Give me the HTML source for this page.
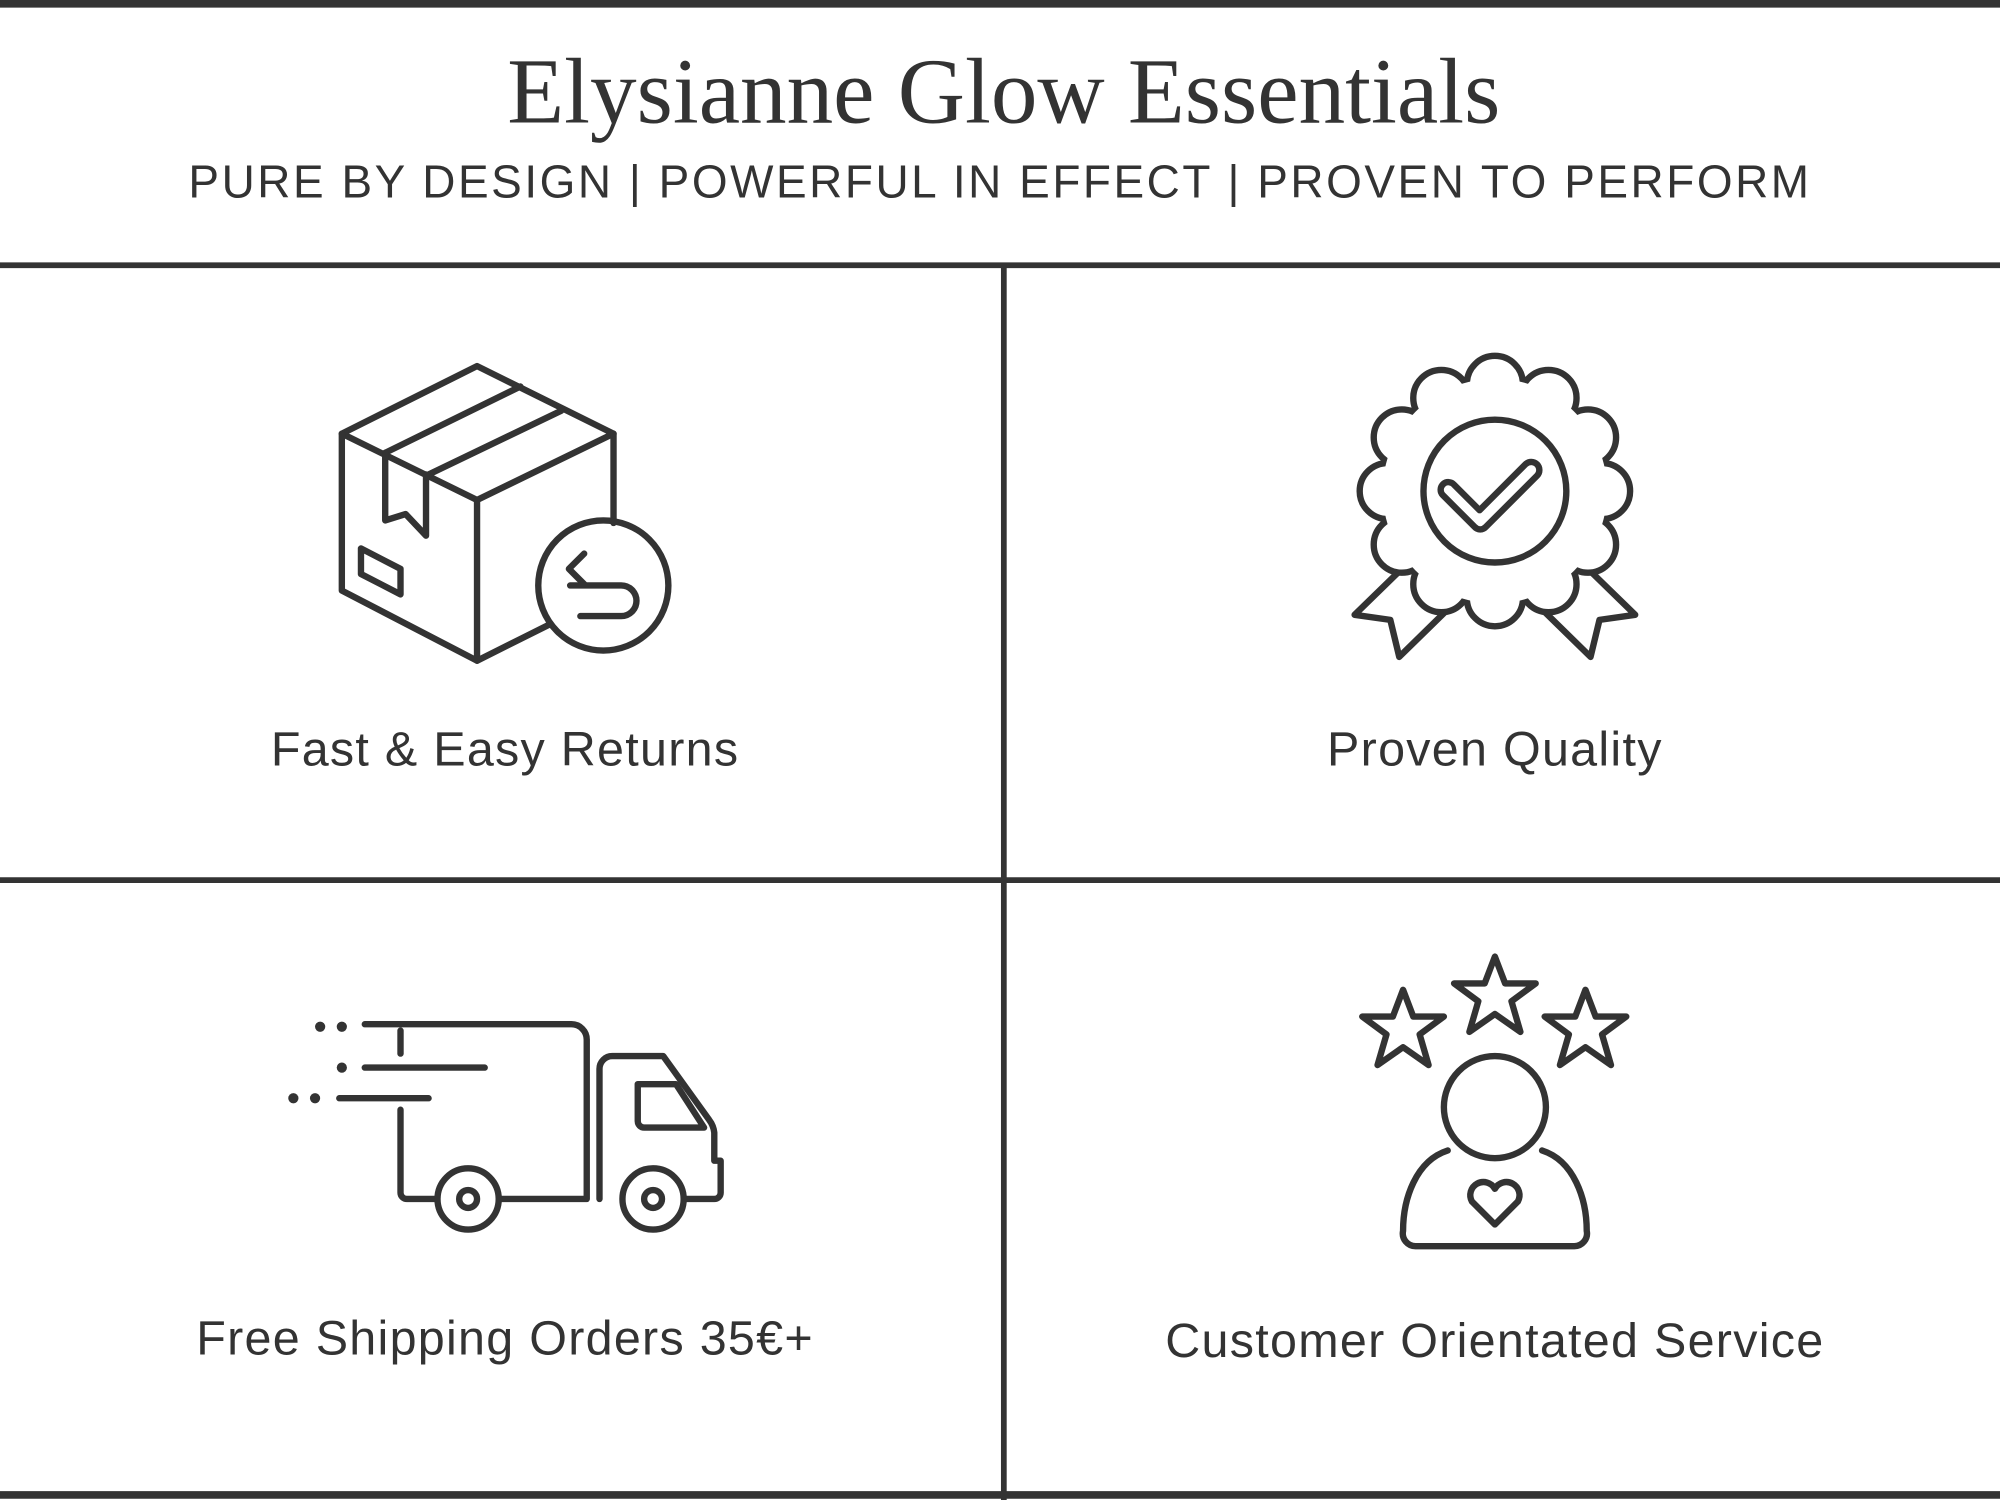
<!DOCTYPE html>
<html><head><meta charset="utf-8"><style>
html,body{margin:0;padding:0;background:#fff;}
svg{display:block;}
</style></head><body>
<svg width="2000" height="1500" viewBox="0 0 1568 1176" xmlns="http://www.w3.org/2000/svg">
<rect width="1568" height="1176" fill="#fff"/>
<g fill="none" stroke="#333" stroke-width="4.5">
<line x1="0" y1="3" x2="1568" y2="3" stroke-width="6"/>
<line x1="0" y1="208" x2="1568" y2="208"/>
<line x1="0" y1="690" x2="1568" y2="690"/>
<line x1="0" y1="1172" x2="1568" y2="1172" stroke-width="6"/>
<line x1="787" y1="208" x2="787" y2="1176"/>
</g>
<text x="787" y="96" text-anchor="middle" font-family="'Liberation Serif',serif" font-size="73" fill="#333">Elysianne Glow Essentials</text>
<text x="784" y="155" text-anchor="middle" font-family="'Liberation Sans',sans-serif" font-size="36" letter-spacing="2" fill="#333">PURE BY DESIGN | POWERFUL IN EFFECT | PROVEN TO PERFORM</text>
<g font-family="'Liberation Sans',sans-serif" font-size="38" fill="#333" text-anchor="middle" letter-spacing="1">
<text x="396" y="600">Fast &amp; Easy Returns</text>
<text x="1172" y="600">Proven Quality</text>
<text x="396" y="1062">Free Shipping Orders 35€+</text>
<text x="1172" y="1064">Customer Orientated Service</text>
</g>
<g fill="none" stroke="#333" stroke-width="5" stroke-linejoin="round" stroke-linecap="round">
<!-- box -->
<polygon points="268,340 374,287 481,340 374,392"/>
<polyline points="268,340 268,463 374,518 374,392"/>
<polyline points="481,340 481,410"/>
<polyline points="374,518 430,490"/>
<line x1="302" y1="355" x2="408" y2="303"/>
<line x1="336" y1="372" x2="440" y2="322"/>
<polyline points="302,355 302,408 318,403 334,420 334,372"/>
<polygon points="283,430 314,446 314,466 283,450"/>
<circle cx="473" cy="459" r="51"/>
<path d="M455 483 H487 a12 12 0 0 0 0 -24 H447"/>
<polyline points="458,434 446,446 458,458"/>
<!-- badge -->
<polyline points="1100,445 1062,482 1090,486 1097,515 1145,468"/>
<polyline points="1244,445 1282,482 1254,486 1247,515 1199,468"/>
<g fill="#fff">
<circle cx="1256" cy="385" r="22"/><circle cx="1245" cy="427" r="22"/><circle cx="1214" cy="458" r="22"/>
<circle cx="1172" cy="469" r="22"/><circle cx="1130" cy="458" r="22"/><circle cx="1099" cy="427" r="22"/>
<circle cx="1088" cy="385" r="22"/><circle cx="1099" cy="343" r="22"/><circle cx="1130" cy="312" r="22"/>
<circle cx="1172" cy="301" r="22"/><circle cx="1214" cy="312" r="22"/><circle cx="1245" cy="343" r="22"/>
</g>
<circle cx="1172" cy="385" r="88" fill="#fff" stroke="none"/>
<circle cx="1172" cy="385" r="56"/>
<path d="M1140 380 l20 20 l36 -36 a6 6 0 0 1 9 9 l-40 40 a6 6 0 0 1 -9 0 l-25 -25 a6 6 0 0 1 9 -8z"/>
<!-- truck -->
<path d="M286 803 H448 a12 12 0 0 1 12 12 V940 H392"/>
<path d="M314 870 V935 a5 5 0 0 0 5 5 H342"/>
<line x1="314" y1="808" x2="314" y2="826"/>
<path d="M470 940 V838 a10 10 0 0 1 10 -10 H520 L556 878 a20 20 0 0 1 4 10 V910 h5 V935 a5 5 0 0 1 -5 5 H537"/>
<path d="M500 850 H530 L552 884 H505 a5 5 0 0 1 -5 -5z"/>
<circle cx="367" cy="940" r="24"/><circle cx="367" cy="940" r="7"/>
<circle cx="512" cy="940" r="24"/><circle cx="512" cy="940" r="7"/>
<line x1="286" y1="837" x2="380" y2="837"/>
<line x1="266" y1="861" x2="336" y2="861"/>
<!-- person -->
<circle cx="1172" cy="868" r="40"/>
<path d="M1135 902 C1110 910 1100 940 1100 965 a10 10 0 0 0 10 12 H1234 a10 10 0 0 0 10 -12 C1244 940 1234 910 1209 902"/>
<path d="M1172 960 l-18 -18 a9 9 0 0 1 18 -10 a9 9 0 0 1 18 10z"/>
<polygon points="1100,776 1108,797 1132,797 1113,811 1120,835 1100,821 1080,835 1087,811 1068,797 1092,797"/>
<polygon points="1172,750 1180,771 1204,771 1185,785 1192,809 1172,795 1152,809 1159,785 1140,771 1164,771"/>
<polygon points="1243,776 1251,797 1275,797 1256,811 1263,835 1243,821 1223,835 1230,811 1211,797 1235,797"/>
</g>
<g fill="#333">
<circle cx="251" cy="805" r="4"/><circle cx="268" cy="805" r="4"/>
<circle cx="268" cy="837" r="4"/>
<circle cx="230" cy="861" r="4"/><circle cx="247" cy="861" r="4"/>
</g>
</svg>
</body></html>
